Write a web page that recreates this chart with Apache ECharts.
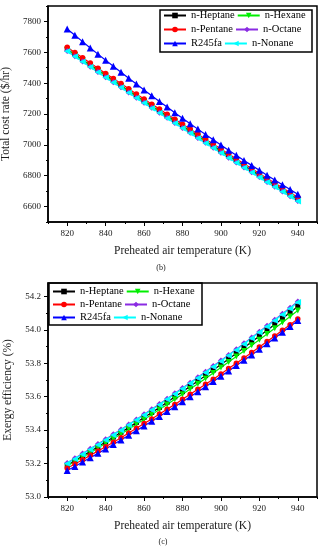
<!DOCTYPE html>
<html><head><meta charset="utf-8">
<script src="https://cdn.jsdelivr.net/npm/echarts@6/dist/echarts.min.js"></script>
<style>html,body{margin:0;padding:0;background:#fff}#c{width:323px;height:550px}</style>
</head><body><div id="c"></div>
<script>
const temps = [820,824,828,832,836,840,844,848,852,856,860,864,868,872,876,880,884,888,892,896,900,904,908,912,916,920,924,928,932,936,940];
const xTickLabels = [820,840,860,880,900,920,940];
const xMinorTicks = [810,830,850,870,890,910,930,950];
const costTickLabels = [6600,6800,7000,7200,7400,7600,7800];
const costMinorTicks = [6500,6700,6900,7100,7300,7500,7700,7900];
const effTickLabels = [53.0,53.2,53.4,53.6,53.8,54.0,54.2];
const effMinorTicks = [53.1,53.3,53.5,53.7,53.9,54.1];

const seriesNames = ['n-Heptane','n-Hexane','n-Pentane','n-Octane','R245fa','n-Nonane'];

// Total cost rate ($/hr)
const costHeptane = [7620,7586,7552,7518,7485,7451,7418,7385,7351,7318,7285,7252,7220,7187,7154,7122,7090,7057,7025,6993,6961,6929,6898,6866,6835,6803,6772,6741,6710,6679,6648];
const costHexane  = [7617,7583,7549,7515,7482,7448,7415,7382,7348,7315,7282,7249,7217,7184,7151,7119,7087,7054,7022,6990,6958,6926,6895,6863,6832,6800,6769,6738,6707,6676,6645];
const costPentane = [7632,7598,7564,7530,7497,7463,7430,7397,7363,7330,7297,7264,7232,7199,7166,7134,7102,7069,7037,7005,6973,6941,6910,6878,6847,6815,6784,6753,6722,6691,6660];
const costOctane  = [7608,7574,7540,7506,7473,7439,7406,7373,7339,7306,7273,7240,7208,7175,7142,7110,7078,7045,7013,6981,6949,6917,6886,6854,6823,6791,6760,6729,6698,6667,6636];
const costR245fa  = [7751,7710,7669,7628,7588,7549,7509,7470,7432,7394,7356,7318,7281,7245,7208,7172,7137,7102,7067,7033,6999,6965,6932,6899,6867,6835,6803,6772,6741,6710,6680];
const costNonane  = [7606,7572,7538,7504,7471,7437,7404,7371,7337,7304,7271,7238,7206,7173,7140,7108,7076,7043,7011,6979,6947,6915,6884,6852,6821,6789,6758,6727,6696,6665,6634];

// Exergy efficiency (%)
const effHeptane = [53.190,53.217,53.245,53.272,53.301,53.329,53.358,53.387,53.416,53.446,53.476,53.506,53.536,53.567,53.599,53.630,53.662,53.694,53.726,53.759,53.792,53.826,53.859,53.893,53.928,53.962,53.997,54.032,54.068,54.104,54.140];
const effHexane  = [53.185,53.212,53.238,53.265,53.293,53.321,53.349,53.377,53.406,53.435,53.464,53.494,53.523,53.554,53.584,53.615,53.646,53.678,53.709,53.742,53.774,53.807,53.840,53.873,53.907,53.941,53.975,54.009,54.044,54.080,54.115];
const effPentane = [53.172,53.197,53.223,53.249,53.275,53.301,53.328,53.355,53.383,53.411,53.439,53.467,53.496,53.525,53.554,53.584,53.614,53.644,53.674,53.705,53.736,53.768,53.800,53.832,53.864,53.897,53.930,53.963,53.997,54.031,54.065];
const effOctane  = [53.204,53.232,53.260,53.288,53.317,53.345,53.375,53.404,53.434,53.464,53.495,53.525,53.556,53.588,53.620,53.652,53.684,53.716,53.749,53.783,53.816,53.850,53.884,53.919,53.954,53.989,54.024,54.060,54.096,54.132,54.169];
const effR245fa  = [53.158,53.183,53.209,53.235,53.261,53.287,53.314,53.341,53.369,53.397,53.425,53.453,53.482,53.511,53.540,53.570,53.600,53.630,53.660,53.691,53.722,53.754,53.786,53.818,53.850,53.883,53.917,53.951,53.986,54.020,54.055];
const effNonane  = [53.200,53.228,53.256,53.284,53.313,53.341,53.371,53.400,53.430,53.460,53.491,53.521,53.552,53.584,53.616,53.648,53.680,53.712,53.745,53.779,53.812,53.846,53.880,53.915,53.950,53.985,54.020,54.056,54.092,54.128,54.165];

const costData = [costHeptane,costHexane,costPentane,costOctane,costR245fa,costNonane];
const effData = [effHeptane,effHexane,effPentane,effOctane,effR245fa,effNonane];

const styles = [
  {color:'#000000', symbol:'rect', rotate:0, size:5},
  {color:'#00ee00', symbol:'triangle', rotate:180, size:6},
  {color:'#ff0000', symbol:'circle', rotate:0, size:5.5},
  {color:'#8a2be2', symbol:'diamond', rotate:0, size:6},
  {color:'#0000ff', symbol:'triangle', rotate:0, size:7},
  {color:'#00ffff', symbol:'triangle', rotate:90, size:6.5}
];

const FONT = 'Liberation Serif';
const TXT = '#1a1a1a';

function mainX(gi){
  return {type:'value', gridIndex:gi, min:810, max:950, interval:10, position:'bottom',
    axisLine:{show:true, onZero:false, lineStyle:{color:'#000', width:1.5}},
    axisTick:{show:true, length:4, customValues:xTickLabels, lineStyle:{color:'#000', width:1}},
    axisLabel:{customValues:xTickLabels, fontFamily:FONT, fontSize:9, color:TXT, margin:7},
    splitLine:{show:false},
    name:'Preheated air temperature (K)', nameLocation:'middle', nameGap:23,
    nameTextStyle:{fontFamily:FONT, fontSize:11.5, color:TXT}};
}
function minorX(gi){
  return {type:'value', gridIndex:gi, min:810, max:950, interval:10, position:'bottom',
    axisLine:{show:false, onZero:false},
    axisTick:{show:true, length:2, customValues:xMinorTicks, lineStyle:{color:'#000', width:1}},
    axisLabel:{show:false}, splitLine:{show:false}};
}
function mainY(gi, min, max, interval, labels, name, fmt){
  return {type:'value', gridIndex:gi, min:min, max:max, interval:interval, position:'left',
    axisLine:{show:true, onZero:false, lineStyle:{color:'#000', width:1.5}},
    axisTick:{show:true, length:4, customValues:labels, lineStyle:{color:'#000', width:1}},
    axisLabel:{customValues:labels, fontFamily:FONT, fontSize:9, color:TXT, margin:7, formatter:fmt},
    splitLine:{show:false},
    name:name, nameLocation:'middle', nameGap:27, nameRotate:90,
    nameTextStyle:{fontFamily:FONT, fontSize:11.5, color:TXT}};
}
function minorY(gi, min, max, interval, ticks){
  return {type:'value', gridIndex:gi, min:min, max:max, interval:interval, position:'left',
    axisLine:{show:false, onZero:false},
    axisTick:{show:true, length:2, customValues:ticks, lineStyle:{color:'#000', width:1}},
    axisLabel:{show:false}, splitLine:{show:false}};
}

const series = [];
[costData, effData].forEach((set, gi) => {
  set.forEach((arr, k) => {
    const st = styles[k];
    series.push({
      name: seriesNames[k], type:'line', xAxisIndex: gi*2, yAxisIndex: gi*2,
      data: temps.map((t,i)=>[t, arr[i]]),
      symbol: st.symbol, symbolSize: st.size, symbolRotate: st.rotate,
      showAllSymbol:true,
      lineStyle:{color:st.color, width:1.2},
      itemStyle:{color:st.color},
      emphasis:{disabled:true}, animation:false
    });
  });
});

function legendRow(items, left, top){
  return {data:items, left:left, top:top, orient:'horizontal', itemWidth:22, itemHeight:7, itemGap:2,
    padding:0, textStyle:{fontFamily:FONT, fontSize:10.5, color:'#000'}, selectedMode:false};
}

const chart = echarts.init(document.getElementById('c'), null, {renderer:'canvas'});
chart.setOption({
  backgroundColor:'#fff',
  animation:false,
  grid:[
    {left:48, right:6, top:6, height:216, outerBoundsMode:'none', containLabel:false, show:true, borderColor:'#000', borderWidth:1.5, backgroundColor:'transparent'},
    {left:48, right:6, top:283, height:214, outerBoundsMode:'none', containLabel:false, show:true, borderColor:'#000', borderWidth:1.5, backgroundColor:'transparent'}
  ],
  xAxis:[mainX(0), minorX(0), mainX(1), minorX(1)],
  yAxis:[
    mainY(0, 6500, 7900, 100, costTickLabels, 'Total cost rate ($/hr)', v=>String(v)),
    minorY(0, 6500, 7900, 100, costMinorTicks),
    mainY(1, 53.0, 54.28, 0.02, effTickLabels, 'Exergy efficiency (%)', v=>Number(v).toFixed(1)),
    minorY(1, 53.0, 54.28, 0.02, effMinorTicks)
  ],
  legend:[
    legendRow(['n-Heptane','n-Hexane'], 163, 10),
    legendRow(['n-Pentane','n-Octane'], 163, 24),
    legendRow(['R245fa','n-Nonane'], 163, 38),
    legendRow(['n-Heptane','n-Hexane'], 52, 286),
    legendRow(['n-Pentane','n-Octane'], 52, 299),
    legendRow(['R245fa','n-Nonane'], 52, 312)
  ],
  graphic:[
    {type:'rect', shape:{x:160, y:10, width:152, height:42}, style:{fill:'#fff', stroke:'#000', lineWidth:1.5}, z:-1, silent:true},
    {type:'rect', shape:{x:49, y:283, width:153, height:42}, style:{fill:'#fff', stroke:'#000', lineWidth:1.5}, z:-1, silent:true},
    {type:'text', x:161, y:268, style:{text:'(b)', fontFamily:FONT, fontSize:8, fill:TXT, textAlign:'center', textVerticalAlign:'middle'}},
    {type:'text', x:163, y:542, style:{text:'(c)', fontFamily:FONT, fontSize:8, fill:TXT, textAlign:'center', textVerticalAlign:'middle'}}
  ],
  series: series
});
</script>
</body></html>
